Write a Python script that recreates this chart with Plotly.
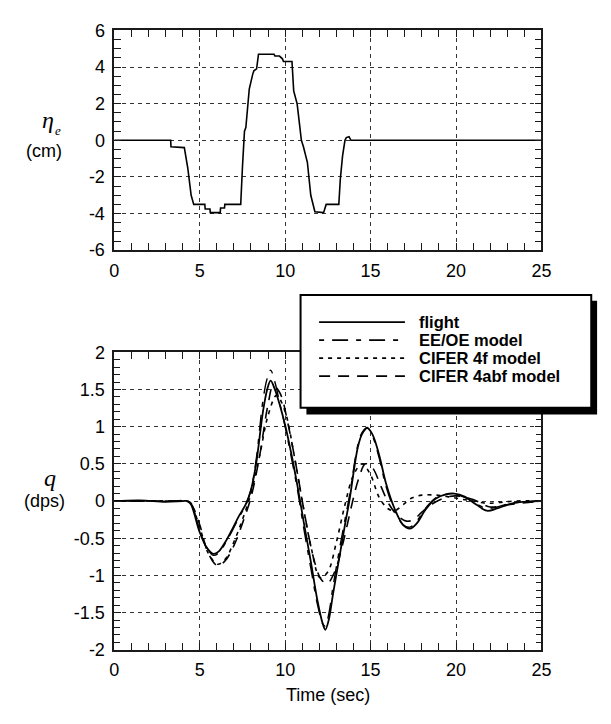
import plotly.graph_objects as go

# ---------------- data ----------------
t_eta = [0, 3.3, 3.32, 4.1, 4.3, 4.5, 4.65, 5.3, 5.32, 5.6, 5.62, 6.2, 6.22, 6.45, 6.47,
         7.4, 7.5, 7.62, 7.7, 7.9, 8.1, 8.17, 8.33, 8.44, 9.35, 9.4, 9.67, 9.84, 9.9, 10.4,
         10.5, 10.7, 10.85, 10.95, 11.07, 11.3, 11.5, 11.74, 12.25, 12.4, 13.14, 13.23,
         13.36, 13.5, 13.58, 13.74, 13.85, 25]
eta = [0, 0, -0.35, -0.4, -1.5, -3.0, -3.5, -3.5, -3.75, -3.75, -3.95, -3.95, -3.7, -3.7, -3.5,
       -3.5, -1.5, 0.5, 0.7, 2.8, 3.6, 3.8, 3.9, 4.7, 4.7, 4.6, 4.6, 4.45, 4.3, 4.3,
       2.7, 2.0, 0.8, 0.0, -0.35, -1.2, -3.0, -3.9, -3.95, -3.5, -3.5, -2.1,
       -0.85, 0.0, 0.15, 0.2, 0.0, 0]

t_flight = [0, 1.5, 3.0, 4.0, 4.3, 4.5, 5.0, 5.4, 5.8, 6.1, 6.5, 6.9, 7.3, 7.7, 8.0, 8.3, 8.7,
            8.95, 9.15, 9.4, 9.7, 10.0, 10.35, 10.7, 11.1, 11.5, 11.9, 12.2, 12.35, 12.55,
            12.8, 13.2, 13.5, 13.77, 14.25, 14.5, 14.8, 15.1, 15.5, 15.9, 16.4, 16.9, 17.3,
            17.7, 18.2, 18.8, 19.4, 19.9, 20.5, 21.2, 21.8, 22.4, 23.0, 23.5, 25]
q_flight = [0.0, 0.01, -0.01, 0.0, 0.0, -0.05, -0.42, -0.62, -0.71, -0.68, -0.55, -0.38, -0.2,
            -0.04, 0.15, 0.5, 1.2, 1.5, 1.62, 1.5, 1.28, 1.02, 0.65, 0.23, -0.3, -0.81, -1.35,
            -1.65, -1.73, -1.6, -1.25, -0.72, -0.32, 0.02, 0.72, 0.9, 0.98, 0.9, 0.62, 0.24,
            -0.1, -0.32, -0.37, -0.3, -0.12, 0.03, 0.09, 0.1, 0.06, -0.05, -0.13, -0.1, -0.05,
            -0.02, 0.0]

t_eeoe = t_flight
q_eeoe = [0.0, 0.0, 0.0, 0.0, 0.0, -0.03, -0.4, -0.62, -0.73, -0.7, -0.57, -0.4, -0.22, -0.05,
          0.15, 0.55, 1.35, 1.65, 1.76, 1.6, 1.3, 1.0, 0.6, 0.18, -0.38, -0.9, -1.4, -1.65,
          -1.68, -1.52, -1.15, -0.62, -0.25, 0.08, 0.75, 0.92, 0.99, 0.88, 0.58, 0.2, -0.12,
          -0.32, -0.35, -0.27, -0.1, 0.04, 0.09, 0.09, 0.05, -0.04, -0.1, -0.08, -0.04, -0.02,
          0.0]

t_4f = [0, 2.0, 3.5, 4.2, 4.5, 5.0, 5.5, 6.05, 6.5, 7.0, 7.5, 8.0, 8.5, 9.0, 9.5, 10.0, 10.5,
        11.0, 11.5, 12.05, 12.5, 13.0, 13.5, 14.0, 14.5, 15.0, 15.5, 16.0, 16.4, 16.9, 17.4,
        18.0, 18.8, 19.5, 20.2, 21.0, 21.8, 22.5, 23.5, 25]
q_4f = [0, 0, 0, 0, -0.05, -0.35, -0.7, -0.85, -0.78, -0.55, -0.25, 0.1, 0.6, 1.15, 1.42, 1.2,
        0.65, 0.0, -0.6, -1.03, -0.95, -0.55, -0.05, 0.35, 0.5, 0.35, 0.05, -0.1, -0.13, -0.05,
        0.04, 0.08, 0.08, 0.06, 0.03, 0.0, -0.03, -0.02, 0.0, 0.0]

t_4abf = [0, 2.0, 3.5, 4.2, 4.5, 5.0, 5.5, 6.05, 6.5, 7.0, 7.5, 8.0, 8.5, 9.0, 9.3, 9.7, 10.2,
          10.7, 11.2, 11.7, 12.1, 12.45, 12.9, 13.4, 13.9, 14.3, 14.7, 15.1, 15.6, 16.1, 16.6,
          17.1, 17.5, 18.0, 18.6, 19.3, 20.0, 21.0, 22.0, 23.0, 25]
q_4abf = [0, 0, 0, 0, -0.04, -0.32, -0.7, -0.87, -0.8, -0.6, -0.3, 0.05, 0.6, 1.3, 1.55, 1.45,
          1.0, 0.4, -0.25, -0.8, -1.05, -1.11, -0.95, -0.55, -0.05, 0.3, 0.5, 0.45, 0.2, -0.05,
          -0.2, -0.27, -0.25, -0.15, -0.04, 0.04, 0.07, 0.02, -0.08, -0.05, 0.0]

x_ticks = [0, 5, 10, 15, 20, 25]
x_ticktext = ["0", "5", "10", "15", "20", "25"]
eta_ticks = [-6, -4, -2, 0, 2, 4, 6]
eta_ticktext = ["-6", "-4", "-2", "0", "2", "4", "6"]
q_ticks = [-2, -1.5, -1, -0.5, 0, 0.5, 1, 1.5, 2]
q_ticktext = ["-2", "-1.5", "-1", "-0.5", "0", "0.5", "1", "1.5", "2"]

legend_names = ["flight", "EE/OE model", "CIFER 4f model", "CIFER 4abf model"]

# ---------------- layout helpers ----------------
W, H = 611, 724
def PX(x):
    return x / W
def PY(y):
    return 1 - y / H

XL, XR = 112, 550
TOP_T, TOP_B = 21, 247
BOT_T, BOT_B = 352, 658

DASH_EE = "5px,8px,16px,8px"
DASH_4F = "4px,5px"
DASH_4ABF = "11px,8px"

fig = go.Figure()

fig.add_trace(go.Scatter(x=t_eta, y=eta, mode="lines", xaxis="x", yaxis="y",
                         line=dict(color="black", width=1.6), showlegend=False))
fig.add_trace(go.Scatter(x=t_4f, y=q_4f, mode="lines", xaxis="x2", yaxis="y2",
                         line=dict(color="black", width=1.6, dash=DASH_4F, shape="spline"),
                         showlegend=False))
fig.add_trace(go.Scatter(x=t_4abf, y=q_4abf, mode="lines", xaxis="x2", yaxis="y2",
                         line=dict(color="black", width=1.6, dash=DASH_4ABF, shape="spline"),
                         showlegend=False))
fig.add_trace(go.Scatter(x=t_eeoe, y=q_eeoe, mode="lines", xaxis="x2", yaxis="y2",
                         line=dict(color="black", width=1.4, dash=DASH_EE, shape="spline"),
                         showlegend=False))
fig.add_trace(go.Scatter(x=t_flight, y=q_flight, mode="lines", xaxis="x2", yaxis="y2",
                         line=dict(color="black", width=1.8, shape="spline"),
                         showlegend=False))

tickfont = dict(family="Liberation Sans, Arial, sans-serif", size=18, color="black")
common = dict(showline=True, linecolor="#1a1a1a", linewidth=1.5, mirror="ticks",
              ticks="inside", ticklen=7, tickwidth=1, tickcolor="#1a1a1a",
              showgrid=True, gridcolor="#333333", gridwidth=1, griddash="4px,4px",
              zeroline=False, tickfont=tickfont, fixedrange=True)

fig.update_layout(
    width=W, height=H, margin=dict(l=0, r=0, t=0, b=0),
    paper_bgcolor="white", plot_bgcolor="white", showlegend=False,
    xaxis=dict(common, domain=[PX(XL), PX(XR)], anchor="y", range=[0, 25],
               tickvals=x_ticks, ticktext=x_ticktext, ticklabelstandoff=3,
               minor=dict(ticks="inside", dtick=1, ticklen=7, tickcolor="#1a1a1a", showgrid=False)),
    yaxis=dict(common, domain=[PY(TOP_B), PY(TOP_T)], anchor="x", range=[-6, 6],
               tickvals=eta_ticks, ticktext=eta_ticktext, ticklabelstandoff=4,
               minor=dict(ticks="inside", dtick=0.5, ticklen=7, tickcolor="#1a1a1a", showgrid=False)),
    xaxis2=dict(common, domain=[PX(XL), PX(XR)], anchor="y2", range=[0, 25],
                tickvals=x_ticks, ticktext=x_ticktext, ticklabelstandoff=3,
                minor=dict(ticks="inside", dtick=1, ticklen=7, tickcolor="#1a1a1a", showgrid=False)),
    yaxis2=dict(common, domain=[PY(BOT_B), PY(BOT_T)], anchor="x2", range=[-2, 2],
                tickvals=q_ticks, ticktext=q_ticktext, ticklabelstandoff=4,
                minor=dict(ticks="inside", dtick=0.1, ticklen=6, tickcolor="#1a1a1a", showgrid=False)),
)

ann = []
serif = "Liberation Serif, Times New Roman, serif"
sans = "Liberation Sans, Arial, sans-serif"
def label(x, y, text, font, **kw):
    d = dict(x=PX(x), y=PY(y), text=text, showarrow=False, xref="paper", yref="paper",
             xanchor="center", yanchor="middle", font=font)
    d.update(kw)
    ann.append(d)

label(44, 113, "<i>η</i>", dict(family=serif, size=24, color="black"))
label(54, 124, "<i>e</i>", dict(family=serif, size=13, color="black"))
label(40, 145, "(cm)", dict(family=sans, size=18, color="black"))
label(46, 481, "<i>q</i>", dict(family=serif, size=24, color="black"))
label(40, 505, "(dps)", dict(family=sans, size=18, color="black"))
label((XL + XR) / 2, 704, "Time (sec)", dict(family=sans, size=18, color="black"))

shapes = []
LX0, LY0, LX1, LY1 = 303, 293, 601, 409
shapes.append(dict(type="rect", xref="paper", yref="paper", x0=PX(LX0 + 6), x1=PX(LX1 + 6),
                   y0=PY(LY1 + 7), y1=PY(LY0 + 6), fillcolor="black", line=dict(width=0)))
shapes.append(dict(type="rect", xref="paper", yref="paper", x0=PX(LX0), x1=PX(LX1),
                   y0=PY(LY1), y1=PY(LY0), fillcolor="white", line=dict(color="black", width=2)))
rows = [321, 339.5, 358, 376.5]
dashes = ["solid", DASH_EE, DASH_4F, DASH_4ABF]
for name, ry, d in zip(legend_names, rows, dashes):
    shapes.append(dict(type="line", xref="paper", yref="paper", x0=PX(322), x1=PX(410),
                       y0=PY(ry), y1=PY(ry), line=dict(color="black", width=1.8, dash=d)))
    label(422, ry, "<b>" + name + "</b>", dict(family=sans, size=16.5, color="black"),
          xanchor="left")

fig.update_layout(annotations=ann, shapes=shapes)
fig.write_html("out.html", config={"displayModeBar": False},
               post_script="document.body.style.margin='0px';document.body.style.overflow='hidden';")
